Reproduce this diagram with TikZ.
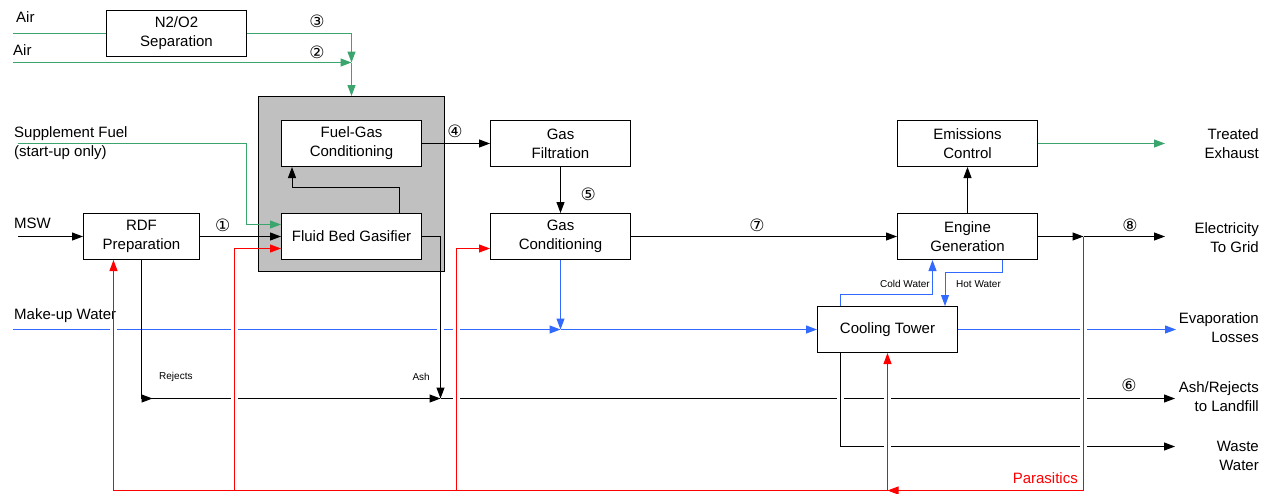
\documentclass[tikz,border=0pt]{standalone}
\usepackage{fontspec}
\setmainfont{Liberation Sans}
\newfontfamily\circfont{DejaVu Sans}
\usetikzlibrary{arrows.meta,positioning,calc}

\definecolor{airgreen}{RGB}{60,165,110}
\definecolor{watblue}{RGB}{50,105,255}
\definecolor{pwrred}{RGB}{255,0,0}
\definecolor{islandgray}{RGB}{192,192,192}

\begin{document}
\begin{tikzpicture}[x=1pt, y=-1pt,
    >={Triangle[length=11pt,width=8pt]},
    unit/.style={draw, fill=white, line width=1pt, minimum width=140pt, minimum height=46pt,
        align=center, inner sep=2pt, font=\fontsize{15}{19}\selectfont},
    lbl/.style={inner sep=0pt, font=\fontsize{15}{19}\selectfont},
    tag/.style={inner sep=0pt, font=\fontsize{10}{12}\selectfont},
    num/.style={inner sep=0pt, font=\circfont\fontsize{17}{17}\selectfont},
    flow/.style={line width=1pt},
    gas/.style={flow, airgreen},
    water/.style={flow, watblue},
    power/.style={flow, pwrred}]
    \useasboundingbox (0,0) rectangle (1268,493);

    % Gasifier island
    \node[draw, fill=islandgray, line width=1pt, minimum width=186pt, minimum height=175pt] (island) at (351.5,184) {};
    \node[unit] (fgc) at (351.5,143.5) {Fuel-Gas\\Conditioning};
    \node[unit] (fbg) at (351.5,236.5) {Fluid Bed Gasifier};

    % Process units
    \node[unit] (sep) at (176.5,33.5) {N2/O2\\Separation};
    \node[unit, minimum width=116pt] (rdf) at (141.5,236.5) {RDF\\Preparation};
    \node[unit] (filt) at (560.5,143.5) {Gas\\Filtration};
    \node[unit] (cond) at (560.5,236.5) {Gas\\Conditioning};
    \node[unit] (emis) at (967.5,143.5) {Emissions\\Control};
    \node[unit] (eng) at (967.5,236.5) {Engine\\Generation};
    \node[unit] (tower) at (887.5,329.5) {Cooling Tower};

    % Inputs (left)
    \node[lbl, anchor=west] (air1) at (16,17) {Air};
    \node[lbl, anchor=west] (air2) at (13,50) {Air};
    \node[lbl, anchor=west, align=left] (supp) at (14,143) {Supplement Fuel\\(start-up only)};
    \node[lbl, anchor=west] (msw) at (14,223) {MSW};
    \node[lbl, anchor=west] (makeup) at (14,316) {Make-up Water};

    % Outputs (right)
    \node[lbl, anchor=east, align=right] (exhaust) at (1259,143.8) {Treated\\Exhaust};
    \node[lbl, anchor=east, align=right] (grid) at (1259,237.5) {Electricity\\To Grid};
    \node[lbl, anchor=east, align=right] (evap) at (1259,328) {Evaporation\\Losses};
    \node[lbl, anchor=east, align=right] (landfill) at (1259,397) {Ash/Rejects\\to Landfill};
    \node[lbl, anchor=east, align=right] (waste) at (1259,455.5) {Waste\\Water};

    % Small labels
    \node[tag, anchor=west] (rejtag) at (159,377) {Rejects};
    \node[tag, anchor=east] (ashtag) at (430,377) {Ash};
    \node[tag, anchor=east] (coldtag) at (930,284) {Cold Water};
    \node[tag, anchor=west] (hottag) at (956,284) {Hot Water};
    \node[lbl, anchor=east, text=pwrred] (para) at (1078,478) {Parasitics};

    % Stream numbers
    \node[num] (n1) at (222.7,225) {①};
    \node[num] (n2) at (317,52) {②};
    \node[num] (n3) at (317,21) {③};
    \node[num] (n4) at (455,131.7) {④};
    \node[num] (n5) at (588.3,194) {⑤};
    \node[num] (n6) at (1129,385) {⑥};
    \node[num] (n7) at (757,225) {⑦};
    \node[num] (n8) at (1130,225) {⑧};

    % Free ends and junctions
    \coordinate (a1) at (13,33.5);
    \coordinate (a2) at (13,62.5);
    \coordinate (j23) at (351.5,62.5);
    \coordinate (s0) at (18,143.5);
    \coordinate (s1) at (246.5,143.5);
    \coordinate (m0) at (18,236.5);
    \coordinate (ex) at (1165,143.5);
    \coordinate (jp) at (1083.5,236.5);
    \coordinate (gr) at (1165,236.5);
    \coordinate (w0) at (13,329.5);
    \coordinate (jw) at (560.5,329.5);
    \coordinate (ev) at (1176,329.5);
    \coordinate (rj) at (141.5,398.5);
    \coordinate (ja) at (440.5,398.5);
    \coordinate (lf) at (1175,398.5);
    \coordinate (ww) at (1175,446.5);
    \coordinate (pr) at (1083.5,490.5);
    \coordinate (pt) at (887.5,490.5);
    \coordinate (p4) at (456.5,490.5);
    \coordinate (p2) at (234.5,490.5);
    \coordinate (p0) at (113.5,490.5);

    % Air and fuel feed
    \draw[gas] (a1) -- (sep.west);
    \draw[gas,->] (sep.east) -| (j23);
    \draw[gas,->] (a2) -- (j23);
    \draw[gas,->] (j23) -- (island.north);
    \draw[gas,->] (s0) -- (s1) |- ($(fbg.west)+(0,-12)$);
    \draw[flow,->] (m0) -- (rdf.west);
    \draw[flow,->] (rdf.east) -- (fbg.west);

    % Gas train
    \draw[flow,->] ($(fbg.north east)+(-23,0)$) -- ++(0,-26) -| ($(fgc.south west)+(11,0)$);
    \draw[flow,->] (fgc.east) -- (filt.west);
    \draw[flow,->] (filt.south) -- (cond.north);
    \draw[flow,->] (cond.east) -- (eng.west);
    \draw[flow,->] (eng.north) -- (emis.south);
    \draw[gas,->] (emis.east) -- (ex);
    \draw[flow,->] (eng.east) -- (jp);
    \draw[flow,->] (jp) -- (gr);

    % Water
    \draw[water,->] (w0) -- (jw);
    \draw[water,->] (cond.south) -- (jw);
    \draw[water,->] (jw) -- (tower.west);
    \draw[water,->] (tower.east) -- (ev);
    \draw[water,->] ($(tower.north west)+(23,0)$) -- ++(0,-12) -| ($(eng.south)+(-35,0)$);
    \draw[water,->] ($(eng.south)+(35,0)$) -- ++(0,12) -| ($(tower.north east)+(-13,0)$);

    % Solids
    \draw[flow] (rdf.south) -- (rj);
    \draw[flow,{Triangle[reversed,length=11pt,width=8pt]}->] (rj) -- (ja);
    \draw[flow,->] (ja) -- (lf);
    \fill[white] (837,396) rectangle (844,401);
    \draw[flow,->] ($(tower.south west)+(23,0)$) |- (ww);

    % Line jumps
    \foreach \gx/\gy in {113.5/329.5, 234.5/329.5, 440.5/329.5, 456.5/329.5, 1083.5/329.5,
                         234.5/398.5, 456.5/398.5, 887.5/398.5, 1083.5/398.5, 887.5/446.5, 1083.5/446.5}
        \fill[white] ({\gx-3.5},{\gy-2.5}) rectangle ({\gx+3.5},{\gy+2.5});

    \draw[flow,->] (fbg.east) -| (ja);

    % Parasitic power
    \draw[power,->] (jp) -- (pr) -- (pt);
    \draw[power] (pt) -- (p0);
    \draw[power,->] (p0) -- ($(rdf.south)+(-28,0)$);
    \draw[power,->] (p2) |- ($(fbg.west)+(0,12)$);
    \draw[power,->] (p4) |- ($(cond.west)+(0,12)$);
    \draw[power,->] (pt) -- (tower.south);
\end{tikzpicture}
\end{document}
